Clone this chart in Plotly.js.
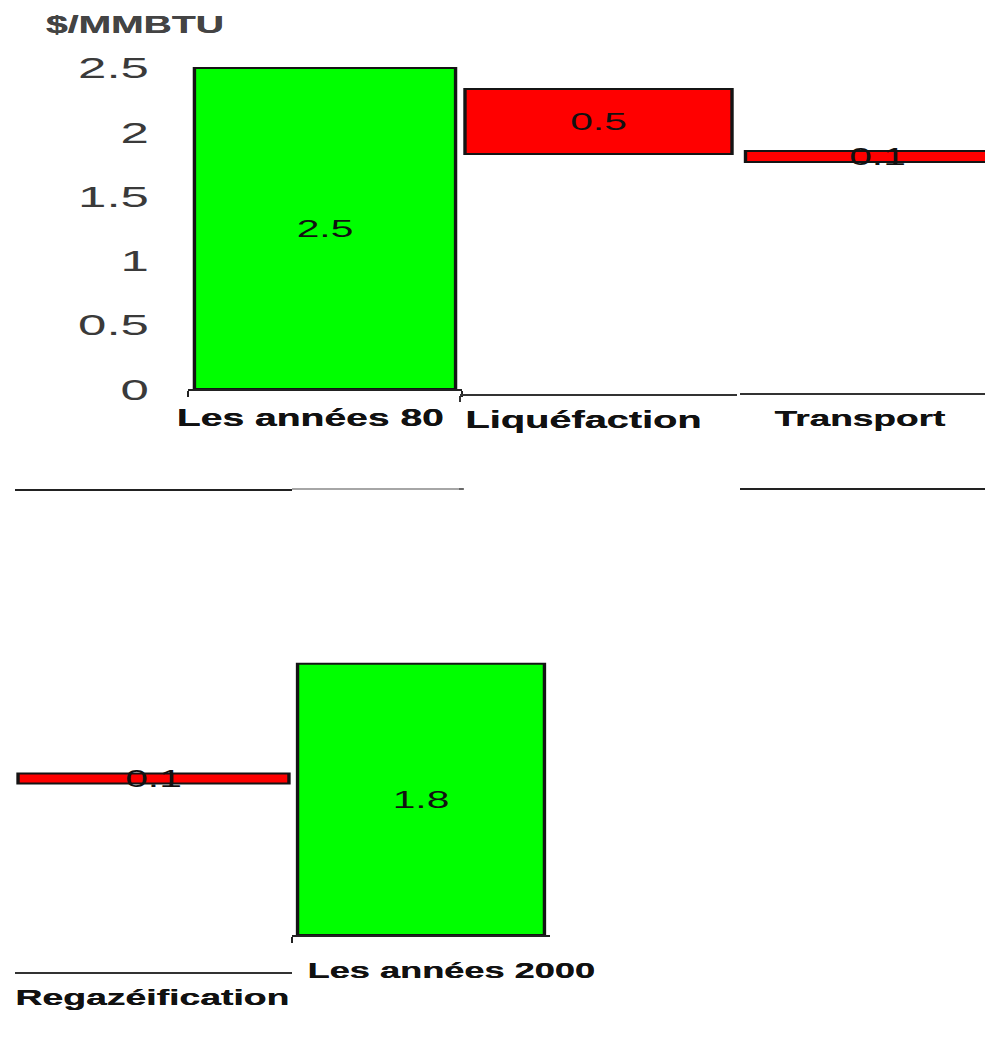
<!DOCTYPE html>
<html>
<head>
<meta charset="utf-8">
<script src="https://cdn.plot.ly/plotly-3.0.1.min.js"></script>
<style>
  html, body { margin: 0; padding: 0; background: #ffffff; overflow: hidden; }
  /* the chart is laid out narrow and widened, giving the broad lettering */
  #chart { width: 580px; height: 1048px; transform: scaleX(1.698276); transform-origin: 0 0; }
</style>
</head>
<body>
<div id="chart"></div>
<script>
// LNG cost chain, $/MMBTU
const categories = ['Les années 80', 'Liquéfaction', 'Transport', 'Regazéification', 'Les années 2000'];
const values = [2.5, 0.5, 0.1, 0.1, 1.8];
const kinds = ['total', 'decrease', 'decrease', 'decrease', 'total'];
const unitLabel = '$/MMBTU';

// running level of the waterfall: totals start at zero, steps hang from the previous level
const bases = [];
let level = 0;
values.forEach((v, i) => {
  if (kinds[i] === 'total') { bases.push(0); level = v; }
  else { level -= v; bases.push(level); }
});

const FONT = 'Liberation Sans, Arial, Helvetica, sans-serif';
const GREEN = '#00ff00';
const RED = '#ff0000';
const W = 985, H = 1048;
const K = 985 / 580;            // horizontal widening of the page
const fx = px => px / W;
const fy = py => 1 - py / H;

// each step sits in its own panel (pixel boxes of the widened page)
const panels = [
  { xd: [188, 462], yd: [389, 50],  yr: [0, 2.64],      xr: [-0.5, 0.5],   w: 0.953, ticks: true,  lc: '#222', lab: [310, 418], fs: 23 },
  { xd: [460, 737], yd: [394, 60],  yr: [0.154, 2.723], xr: [-0.5, 0.5],   w: 0.964, ticks: true,  lc: '#333', lab: [584, 420], fs: 23.4 },
  { xd: [740, 985], yd: [393, 60],  yr: [-0.2, 2.827],  xr: [-0.5, 0.391], w: 0.96,  ticks: false, lc: '#333', lab: [860, 418], fs: 21.8 },
  { xd: [15, 292],  yd: [972, 660], yr: [-0.085, 3.035], xr: [-0.5, 0.5],  w: 0.978, ticks: false, lc: '#333', lab: [152, 997], fs: 22 },
  { xd: [292, 550], yd: [935, 650], yr: [0, 1.892],     xr: [-0.5, 0.5],   w: 0.957, ticks: true,  lc: '#222', lab: [451, 971], fs: 21.3 }
];

const traces = [];
const layout = {
  width: 580, height: H,
  margin: { l: 0, r: 0, t: 0, b: 0 },
  paper_bgcolor: '#ffffff', plot_bgcolor: 'rgba(0,0,0,0)',
  showlegend: false,
  bargap: 0,
  font: { family: FONT, color: '#222' },
  annotations: [{
    text: unitLabel, xref: 'paper', yref: 'paper',
    x: fx(42), y: fy(25), xanchor: 'left', yanchor: 'middle', showarrow: false,
    font: { family: FONT, size: 23, weight: 'bold', color: '#444', shadow: '0.3px 0 0 #444' }
  }],
  shapes: []
};

panels.forEach((p, i) => {
  const n = i + 1;
  const xa = n === 1 ? 'x' : 'x' + n;
  const ya = n === 1 ? 'y' : 'y' + n;
  traces.push({
    type: 'bar',
    x: [categories[i]], y: [values[i]], base: [bases[i]],
    xaxis: xa, yaxis: ya,
    width: p.w,
    marker: { color: kinds[i] === 'total' ? GREEN : RED, line: { color: '#141414', width: 2 } },
    text: [String(values[i])],
    textposition: 'inside', insidetextanchor: 'middle', constraintext: 'none', textangle: 0,
    textfont: { family: FONT, size: 24, color: '#111' },
    hoverinfo: 'skip'
  });
  layout['xaxis' + (n === 1 ? '' : n)] = {
    domain: [fx(p.xd[0]), fx(p.xd[1])], anchor: ya,
    type: 'category', range: p.xr,
    showline: true, linecolor: p.lc, linewidth: 2,
    showgrid: false, zeroline: false, showticklabels: false,
    ticks: p.ticks ? 'outside' : '', tickson: 'boundaries', ticklen: 6, tickwidth: 1.3, tickcolor: p.lc,
    fixedrange: true
  };
  const yax = {
    domain: [fy(p.yd[0]), fy(p.yd[1])], anchor: xa,
    range: p.yr, showgrid: false, zeroline: false, showline: false,
    showticklabels: false, ticks: '', fixedrange: true
  };
  if (n === 1) {
    Object.assign(yax, {
      showticklabels: true, dtick: 0.5, tick0: 0,
      tickfont: { family: FONT, size: 30, color: '#3a3a3a' },
      ticklabelstandoff: 22
    });
  }
  layout['yaxis' + (n === 1 ? '' : n)] = yax;

  // category name under its panel, tied to the panel's category axis
  const centre = p.xd[0] + (0 - p.xr[0]) / (p.xr[1] - p.xr[0]) * (p.xd[1] - p.xd[0]);
  layout.annotations.push({
    text: categories[i], xref: xa, yref: 'paper',
    x: categories[i], xshift: (p.lab[0] - centre) / K,
    y: fy(p.lab[1]), xanchor: 'center', yanchor: 'middle', showarrow: false,
    font: { family: FONT, size: p.fs, weight: 'bold', color: '#111', shadow: '0.35px 0 0 #111' }
  });
});

// loose rules left between the panels
const rule = (x0, x1, y, color, width) => ({
  type: 'line', xref: 'paper', yref: 'paper',
  x0: fx(x0), x1: fx(x1), y0: fy(y), y1: fy(y),
  line: { color: color, width: width }
});
layout.shapes.push(rule(15, 292, 490, '#222', 2));
layout.shapes.push(rule(292, 463, 489, '#888', 1.5));
layout.shapes.push(rule(740, 985, 489, '#222', 2));
layout.shapes.push(rule(459, 464, 489, '#555', 1.5));

Plotly.newPlot('chart', traces, layout, { staticPlot: true, displayModeBar: false });
</script>
</body>
</html>
